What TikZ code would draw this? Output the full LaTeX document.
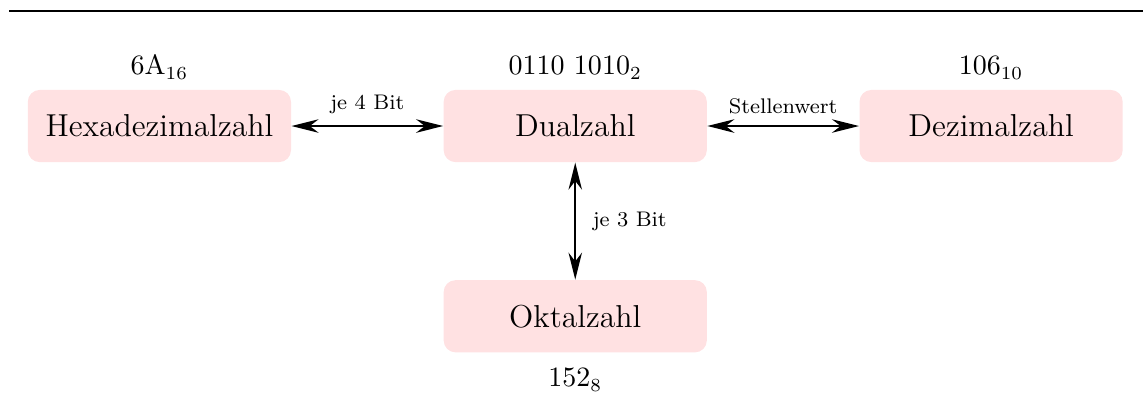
\documentclass[tikz,border=0pt]{standalone}
\usepackage{tikz}
\usetikzlibrary{arrows.meta, positioning}
\definecolor{zahlcolor}{RGB}{255,225,226}

\begin{document}
\begin{tikzpicture}[
    zahl/.style={fill=zahlcolor, minimum width=3.5cm, minimum height=0.96cm, rounded corners=4.5pt, font=\large, align=center},
    wert/.style={font=\fontsize{10.6}{12}\selectfont},
    wandel/.style={{Stealth[length=3.6mm,width=1.8mm]}-{Stealth[length=3.6mm,width=1.8mm]}, semithick},
    info/.style={font=\footnotesize}
]
    \useasboundingbox (-7.65,-3.59) rectangle (7.55,1.676);
    % Rule
    \draw[thick] (-7.53,1.53) -- (7.55,1.53);

    % Number systems
    \node[zahl] (hex) at (-5.53,0) {Hexadezimalzahl};
    \node[zahl] (dual) at (0,0) {Dualzahl};
    \node[zahl] (dez) at (5.53,0) {Dezimalzahl};
    \node[zahl] (okt) at (0,-2.53) {Oktalzahl};

    % Values
    \node[wert, above=0.01cm of hex] (hexwert) {6A$_{16}$};
    \node[wert, above=0.01cm of dual] (dualwert) {0110 1010$_2$};
    \node[wert, above=0.01cm of dez] (dezwert) {106$_{10}$};
    \node[wert, below=0.08cm of okt] (oktwert) {152$_8$};

    % Conversions
    \draw[wandel] (hex) -- node[info, above=1pt] {je 4 Bit} (dual);
    \draw[wandel] (dual) -- node[info, above=1pt] {Stellenwert} (dez);
    \draw[wandel] (dual) -- node[info, right=3pt] {je 3 Bit} (okt);
\end{tikzpicture}
\end{document}
